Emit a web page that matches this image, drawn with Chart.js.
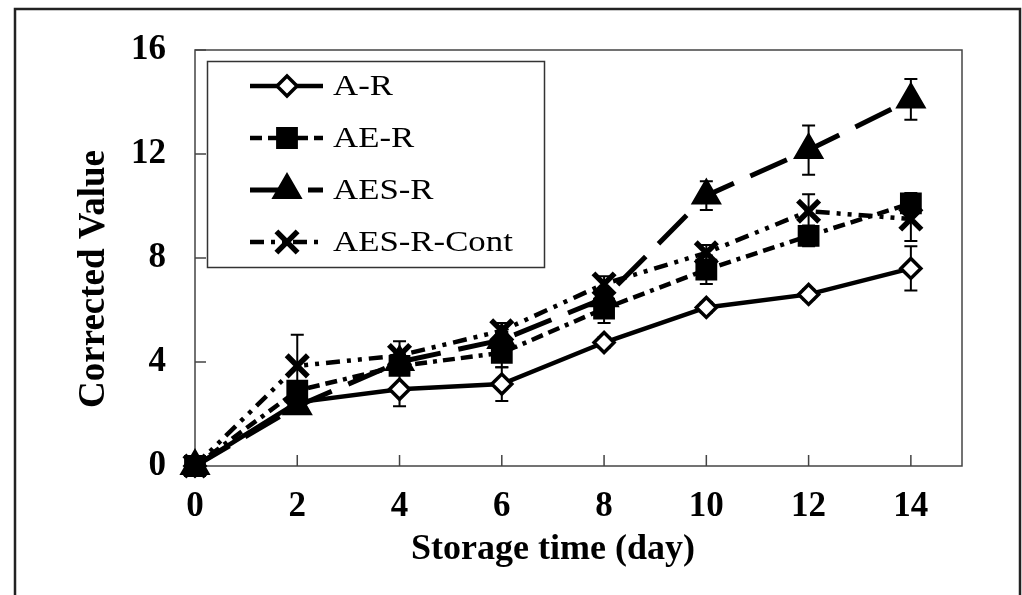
<!DOCTYPE html>
<html>
<head>
<meta charset="utf-8">
<script src="https://cdn.jsdelivr.net/npm/chart.js@4.4.0/dist/chart.umd.min.js"></script>
<style>
  html, body { margin: 0; padding: 0; background: #fff; overflow: hidden; }
  #wrap { width: 1022px; height: 595px; position: relative; }
</style>
</head>
<body>
<div id="wrap"><canvas id="grafica" width="1022" height="595"></canvas></div>
<script>
// ── DATOS ─────────────────────────────────────────────
const dias      = [0, 2, 4, 6, 8, 10, 12, 14];
const etiquetas = ['A-R', 'AE-R', 'AES-R', 'AES-R-Cont'];

const arMedia   = [0, 2.45, 2.95, 3.15, 4.75, 6.1, 6.6, 7.6];
const arError   = [0, 0.2, 0.65, 0.65, 0.2, 0.2, 0.2, 0.85];
const aeMedia   = [0, 2.9, 3.85, 4.35, 6.05, 7.55, 8.85, 10.1];
const aeError   = [0, 0.3, 0.3, 0.55, 0.55, 0.55, 0.4, 0.4];
const aesMedia  = [0, 2.3, 4.0, 4.85, 6.45, 10.4, 12.15, 14.1];
const aesError  = [0, 0.3, 0.3, 0.3, 0.3, 0.55, 0.95, 0.78];
const contMedia = [0, 3.85, 4.25, 5.2, 7.0, 8.2, 9.8, 9.5];
const contError = [0, 1.2, 0.55, 0.3, 0.3, 0.3, 0.65, 0.85];

const yTicks = [0, 4, 8, 12, 16];
const xTicks = [0, 2, 4, 6, 8, 10, 12, 14];

const SERIF = '"Liberation Serif", "Times New Roman", serif';
const errores = [arError, aeError, aesError, contError];

const puntos = arr => dias.map((d, i) => ({ x: d, y: arr[i] }));

// ── PLUGIN: marco, ticks internos, barras de error ─────
const marcoPlugin = {
    id: 'marco',
    beforeDraw(chart) {
        const ctx = chart.ctx;
        ctx.save();
        ctx.fillStyle = '#fff';
        ctx.fillRect(0, 0, chart.width, chart.height);
        ctx.strokeStyle = '#222';
        ctx.lineWidth = 2.5;
        ctx.strokeRect(15, 9, 1005, 620);
        ctx.restore();
    },
    beforeDatasetsDraw(chart) {
        const ctx = chart.ctx;
        const ca = chart.chartArea;
        const sx = chart.scales.x, sy = chart.scales.y;
        ctx.save();
        ctx.strokeStyle = '#444';
        ctx.lineWidth = 1.5;
        ctx.strokeRect(ca.left, ca.top, ca.right - ca.left, ca.bottom - ca.top);
        ctx.beginPath();
        xTicks.forEach(v => {
            const px = sx.getPixelForValue(v);
            ctx.moveTo(px, ca.bottom); ctx.lineTo(px, ca.bottom - 11);
        });
        yTicks.forEach(v => {
            const py = sy.getPixelForValue(v);
            ctx.moveTo(ca.left, py); ctx.lineTo(ca.left + 11, py);
        });
        ctx.stroke();

        // barras de error
        ctx.strokeStyle = '#000';
        ctx.lineWidth = 2;
        chart.data.datasets.forEach((ds, k) => {
            const err = errores[k];
            ds.data.forEach((p, i) => {
                if (!err[i]) return;
                const px = sx.getPixelForValue(p.x);
                const y1 = sy.getPixelForValue(p.y + err[i]);
                const y2 = sy.getPixelForValue(p.y - err[i]);
                ctx.beginPath();
                ctx.moveTo(px, y1); ctx.lineTo(px, y2);
                ctx.moveTo(px - 6.5, y1); ctx.lineTo(px + 6.5, y1);
                ctx.moveTo(px - 6.5, y2); ctx.lineTo(px + 6.5, y2);
                ctx.stroke();
            });
        });
        ctx.restore();
    },
    afterDraw(chart) {
        const ctx = chart.ctx;
        ctx.save();
        // títulos de ejes
        ctx.fillStyle = '#000';
        ctx.font = 'bold 36px ' + SERIF;
        ctx.textAlign = 'center';
        ctx.textBaseline = 'middle';
        ctx.fillText('Storage time (day)', 553, 550);
        ctx.translate(94, 279);
        ctx.rotate(-Math.PI / 2);
        ctx.font = 'bold 37px ' + SERIF;
        ctx.fillText('Corrected Value', 0, 0);
        ctx.restore();

        // leyenda
        ctx.save();
        ctx.fillStyle = '#fff';
        ctx.fillRect(207, 61, 338, 207);
        ctx.strokeStyle = '#333';
        ctx.lineWidth = 1.5;
        ctx.strokeRect(207.5, 61.5, 337, 206);
        const filas = [86, 138, 190, 242];
        chart.data.datasets.forEach((ds, k) => {
            const y = filas[k];
            ctx.save();
            ctx.strokeStyle = '#000';
            ctx.lineWidth = ds.borderWidth;
            ctx.setLineDash(ds.borderDash || []);
            ctx.beginPath();
            ctx.moveTo(250, y); ctx.lineTo(323, y);
            ctx.stroke();
            ctx.setLineDash([]);
            ctx.fillStyle = ds.pointBackgroundColor;
            ctx.strokeStyle = ds.pointBorderColor;
            ctx.lineWidth = ds.pointBorderWidth;
            Chart.helpers.drawPoint(ctx, {
                pointStyle: ds.pointStyle, radius: ds.pointRadius,
                rotation: 0, borderWidth: ds.pointBorderWidth
            }, 287, y);
            ctx.restore();
            ctx.save();
            ctx.fillStyle = '#000';
            ctx.font = '29px ' + SERIF;
            ctx.textBaseline = 'middle';
            ctx.translate(333, y + 1);
            ctx.scale(1.2, 1);
            ctx.fillText(etiquetas[k], 0, 0);
            ctx.restore();
        });
        ctx.restore();
    }
};

const serieBase = {
    borderColor: '#000',
    pointBorderColor: '#000',
    borderWidth: 4.5,
    tension: 0,
    clip: false
};

new Chart(document.getElementById('grafica'), {
    type: 'line',
    data: {
        datasets: [
            { ...serieBase, label: etiquetas[0], data: puntos(arMedia),
              pointStyle: 'rectRot', pointRadius: 10, pointBorderWidth: 3.5,
              pointBackgroundColor: '#fff', backgroundColor: '#fff', order: 3 },
            { ...serieBase, label: etiquetas[1], data: puntos(aeMedia),
              borderDash: [12, 6, 12, 6, 4, 6], pointStyle: 'rect', pointRadius: 14, pointBorderWidth: 2,
              pointBackgroundColor: '#000', backgroundColor: '#000', order: 1 },
            { ...serieBase, label: etiquetas[2], data: puntos(aesMedia),
              borderDash: [40, 18], borderWidth: 5, pointStyle: 'triangle', pointRadius: 16,
              pointBorderWidth: 2, pointBackgroundColor: '#000', backgroundColor: '#000', order: 2 },
            { ...serieBase, label: etiquetas[3], data: puntos(contMedia),
              borderDash: [14, 7, 4, 7, 4, 7], pointStyle: 'crossRot', pointRadius: 15,
              pointBorderWidth: 5.5, pointBackgroundColor: '#000', backgroundColor: '#000', order: 0 }
        ]
    },
    options: {
        responsive: false,
        animation: false,
        devicePixelRatio: 1,
        layout: { padding: { left: 0, right: 60, top: 50, bottom: 0 } },
        plugins: { legend: { display: false }, tooltip: { enabled: false } },
        scales: {
            x: {
                type: 'linear', min: 0, max: 15,
                afterFit: s => { s.height = 129; },
                afterBuildTicks: s => { s.ticks = xTicks.map(v => ({ value: v })); },
                grid: { display: false, drawTicks: false },
                border: { display: false },
                ticks: { color: '#000', padding: 20, font: { family: SERIF, size: 35, weight: 'bold' } }
            },
            y: {
                min: 0, max: 16,
                afterFit: s => { s.width = 195; },
                afterBuildTicks: s => { s.ticks = yTicks.map(v => ({ value: v })); },
                grid: { display: false, drawTicks: false },
                border: { display: false },
                ticks: { color: '#000', padding: 29, font: { family: SERIF, size: 35, weight: 'bold' } }
            }
        }
    },
    plugins: [marcoPlugin]
});
</script>
</body>
</html>
